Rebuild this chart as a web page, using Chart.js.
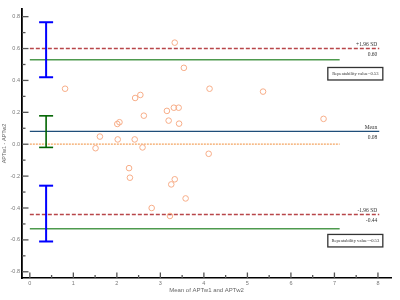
<!DOCTYPE html>
<html>
<head>
<meta charset="utf-8">
<script src="https://cdn.jsdelivr.net/npm/chart.js@4/dist/chart.umd.min.js"></script>
<style>
html,body{margin:0;padding:0;background:#fff;}
#wrap{width:400px;height:300px;}
</style>
</head>
<body>
<div id="wrap"><canvas id="c" width="400" height="300"></canvas></div>
<script>
// ---- data ----
const meanValues = [0.81,1.51,1.61,2.01,2.06,2.02,2.41,2.42,2.54,2.62,2.59,3.15,3.31,3.42,3.19,3.43,3.33,3.54,4.13,5.36,6.75,4.11,2.28,2.30,3.25,3.33,3.58,2.80,3.22];
const diffValues = [0.348,-0.025,0.048,0.127,0.138,0.03,0.03,0.29,0.309,0.179,-0.02,0.209,0.229,0.229,0.148,0.129,0.637,0.479,0.348,0.33,0.159,-0.06,-0.15,-0.21,-0.252,-0.22,-0.34,-0.40,-0.45];
const limitValues = [0.60, 0.08, -0.44];
const limitNames = ['+1.96 SD', 'Mean', '-1.96 SD'];
const limitLabels = ['0.60', '0.08', '-0.44'];
const repeatValues = [0.53, -0.53];
const repeatLabels = ['Repeatability value=0.53', 'Repeatability value=-0.53'];
const zeroValue = 0;
const ciX = 0.374;
const ciUpper = [0.42, 0.765];
const ciMean = [-0.02, 0.178];
const ciLower = [-0.61, -0.26];
const lineStart = 0;
const lineEnd = 8.03;
const shortLineEnd = 7.12;
const xTicks = [0,1,2,3,4,5,6,7,8];
const yTicks = [-0.8,-0.6,-0.4,-0.2,0,0.2,0.4,0.6,0.8];
const xTitle = 'Mean of APTw1 and APTw2';
const yTitle = 'APTw1 - APTw2';

// ---- datasets ----
const hLine = (y, x0, x1) => [{x:x0,y:y},{x:x1,y:y}];
const points = meanValues.map((m,i)=>({x:m,y:diffValues[i]}));
const datasets = [
  {label:'pts', data:points, showLine:false, pointRadius:2.8, pointBorderWidth:1,
   pointBorderColor:'#f7ad88', pointBackgroundColor:'rgba(0,0,0,0)', order:0},
  {label:'upper', data:hLine(limitValues[0], lineStart, lineEnd), showLine:true, pointRadius:0,
   borderColor:'#b8464a', borderWidth:1.5, borderDash:[4,2], order:5},
  {label:'lower', data:hLine(limitValues[2], lineStart, lineEnd), showLine:true, pointRadius:0,
   borderColor:'#b8464a', borderWidth:1.5, borderDash:[4,2], order:5},
  {label:'mean', data:hLine(limitValues[1], lineStart, lineEnd), showLine:true, pointRadius:0,
   borderColor:'#1f4e79', borderWidth:1.3, order:5},
  {label:'rep1', data:hLine(repeatValues[0], lineStart, shortLineEnd), showLine:true, pointRadius:0,
   borderColor:'#4e9a4e', borderWidth:1.5, order:5},
  {label:'rep2', data:hLine(repeatValues[1], lineStart, shortLineEnd), showLine:true, pointRadius:0,
   borderColor:'#4e9a4e', borderWidth:1.5, order:5},
  {label:'zero', data:hLine(zeroValue, lineStart, shortLineEnd), showLine:true, pointRadius:0,
   borderColor:'#f4a460', borderWidth:1.2, borderDash:[2,1], order:5},
  {label:'ci1', data:[{x:ciX,y:ciUpper[0]},{x:ciX,y:ciUpper[1]}], showLine:true, pointStyle:'line',
   pointRadius:7, pointBorderWidth:2, pointBorderColor:'#0000ff', borderColor:'#0000ff', borderWidth:2, order:1},
  {label:'ci2', data:[{x:ciX,y:ciMean[0]},{x:ciX,y:ciMean[1]}], showLine:true, pointStyle:'line',
   pointRadius:7, pointBorderWidth:1.6, pointBorderColor:'#006400', borderColor:'#006400', borderWidth:1.6, order:1},
  {label:'ci3', data:[{x:ciX,y:ciLower[0]},{x:ciX,y:ciLower[1]}], showLine:true, pointStyle:'line',
   pointRadius:7, pointBorderWidth:2, pointBorderColor:'#0000ff', borderColor:'#0000ff', borderWidth:2, order:1}
];

// ---- plugin: inward tick marks and annotations ----
const decor = {
  id:'decor',
  afterDraw(chart){
    const ctx = chart.ctx, xs = chart.scales.x, ys = chart.scales.y;
    const area = chart.chartArea;
    ctx.save();
    ctx.strokeStyle = '#555';
    ctx.lineWidth = 1.3;
    yTicks.forEach((v,i)=>{
      const p = ys.getPixelForValue(v);
      ctx.beginPath(); ctx.moveTo(area.left, p); ctx.lineTo(area.left+6.5, p); ctx.stroke();
      if (i < yTicks.length-1){
        const m = ys.getPixelForValue((v+yTicks[i+1])/2);
        ctx.beginPath(); ctx.moveTo(area.left, m); ctx.lineTo(area.left+3.5, m); ctx.stroke();
      }
    });
    xTicks.forEach((v,i)=>{
      const p = xs.getPixelForValue(v);
      ctx.beginPath(); ctx.moveTo(p, area.bottom); ctx.lineTo(p, area.bottom-5.5); ctx.stroke();
      if (i < xTicks.length-1){
        const m = xs.getPixelForValue((v+xTicks[i+1])/2);
        ctx.beginPath(); ctx.moveTo(m, area.bottom); ctx.lineTo(m, area.bottom-3); ctx.stroke();
      }
    });
    ctx.fillStyle = '#333';
    ctx.font = '5.5px "Liberation Serif"';
    ctx.textAlign = 'right';
    const tx = xs.getPixelForValue(lineEnd) - 2;
    limitValues.forEach((v,i)=>{
      const p = ys.getPixelForValue(v);
      ctx.textBaseline = 'bottom';
      ctx.fillText(limitNames[i], tx, p - 1);
      ctx.textBaseline = 'top';
      ctx.fillText(limitLabels[i], tx, p + 3);
    });
    ctx.font = '4.6px "Liberation Serif"';
    ctx.textAlign = 'center';
    ctx.textBaseline = 'middle';
    const boxY = [0.442, -0.605];
    repeatLabels.forEach((t,i)=>{
      const cx = xs.getPixelForValue(7.48);
      const cy = ys.getPixelForValue(boxY[i]);
      const w = 55, h = 12.5;
      ctx.fillStyle = '#fff';
      ctx.fillRect(cx-w/2, cy-h/2, w, h);
      ctx.strokeStyle = '#333';
      ctx.lineWidth = 1.3;
      ctx.strokeRect(cx-w/2, cy-h/2, w, h);
      ctx.fillStyle = '#333';
      ctx.fillText(t, cx, cy);
    });
    ctx.restore();
  }
};

new Chart(document.getElementById('c'), {
  type:'scatter',
  data:{datasets},
  options:{
    responsive:false, animation:false, devicePixelRatio:1,
    layout:{padding:{top:8, right:0, left:0, bottom:0}},
    plugins:{legend:{display:false}, tooltip:{enabled:false}},
    elements:{line:{tension:0}},
    scales:{
      x:{
        type:'linear', min:-0.18, max:8.3,
        afterFit(s){ s.height = 22; },
        afterBuildTicks(s){ s.ticks = xTicks.map(v=>({value:v})); },
        grid:{display:true, drawOnChartArea:false, drawTicks:false},
        border:{color:'#000', width:1.5},
        ticks:{font:{size:5.5, family:'Arial'}, color:'#777', padding:2, maxRotation:0, autoSkip:false,
               callback:(v)=>String(v)},
        title:{display:true, text:xTitle, font:{size:6, family:'Arial'}, color:'#666', padding:{top:0,bottom:6}}
      },
      y:{
        type:'linear', min:-0.839, max:0.848,
        afterFit(s){ s.width = 22; },
        afterBuildTicks(s){ s.ticks = yTicks.map(v=>({value:v})); },
        grid:{display:true, drawOnChartArea:false, drawTicks:false},
        border:{color:'#000', width:1.8},
        ticks:{font:{size:5.5, family:'Arial'}, color:'#777', padding:2, autoSkip:false,
               callback:(v)=>Number(v).toFixed(1)},
        title:{display:true, text:yTitle, font:{size:5.5, family:'Arial'}, color:'#666', padding:{top:1.5,bottom:0}}
      }
    }
  },
  plugins:[decor]
});
</script>
</body>
</html>
